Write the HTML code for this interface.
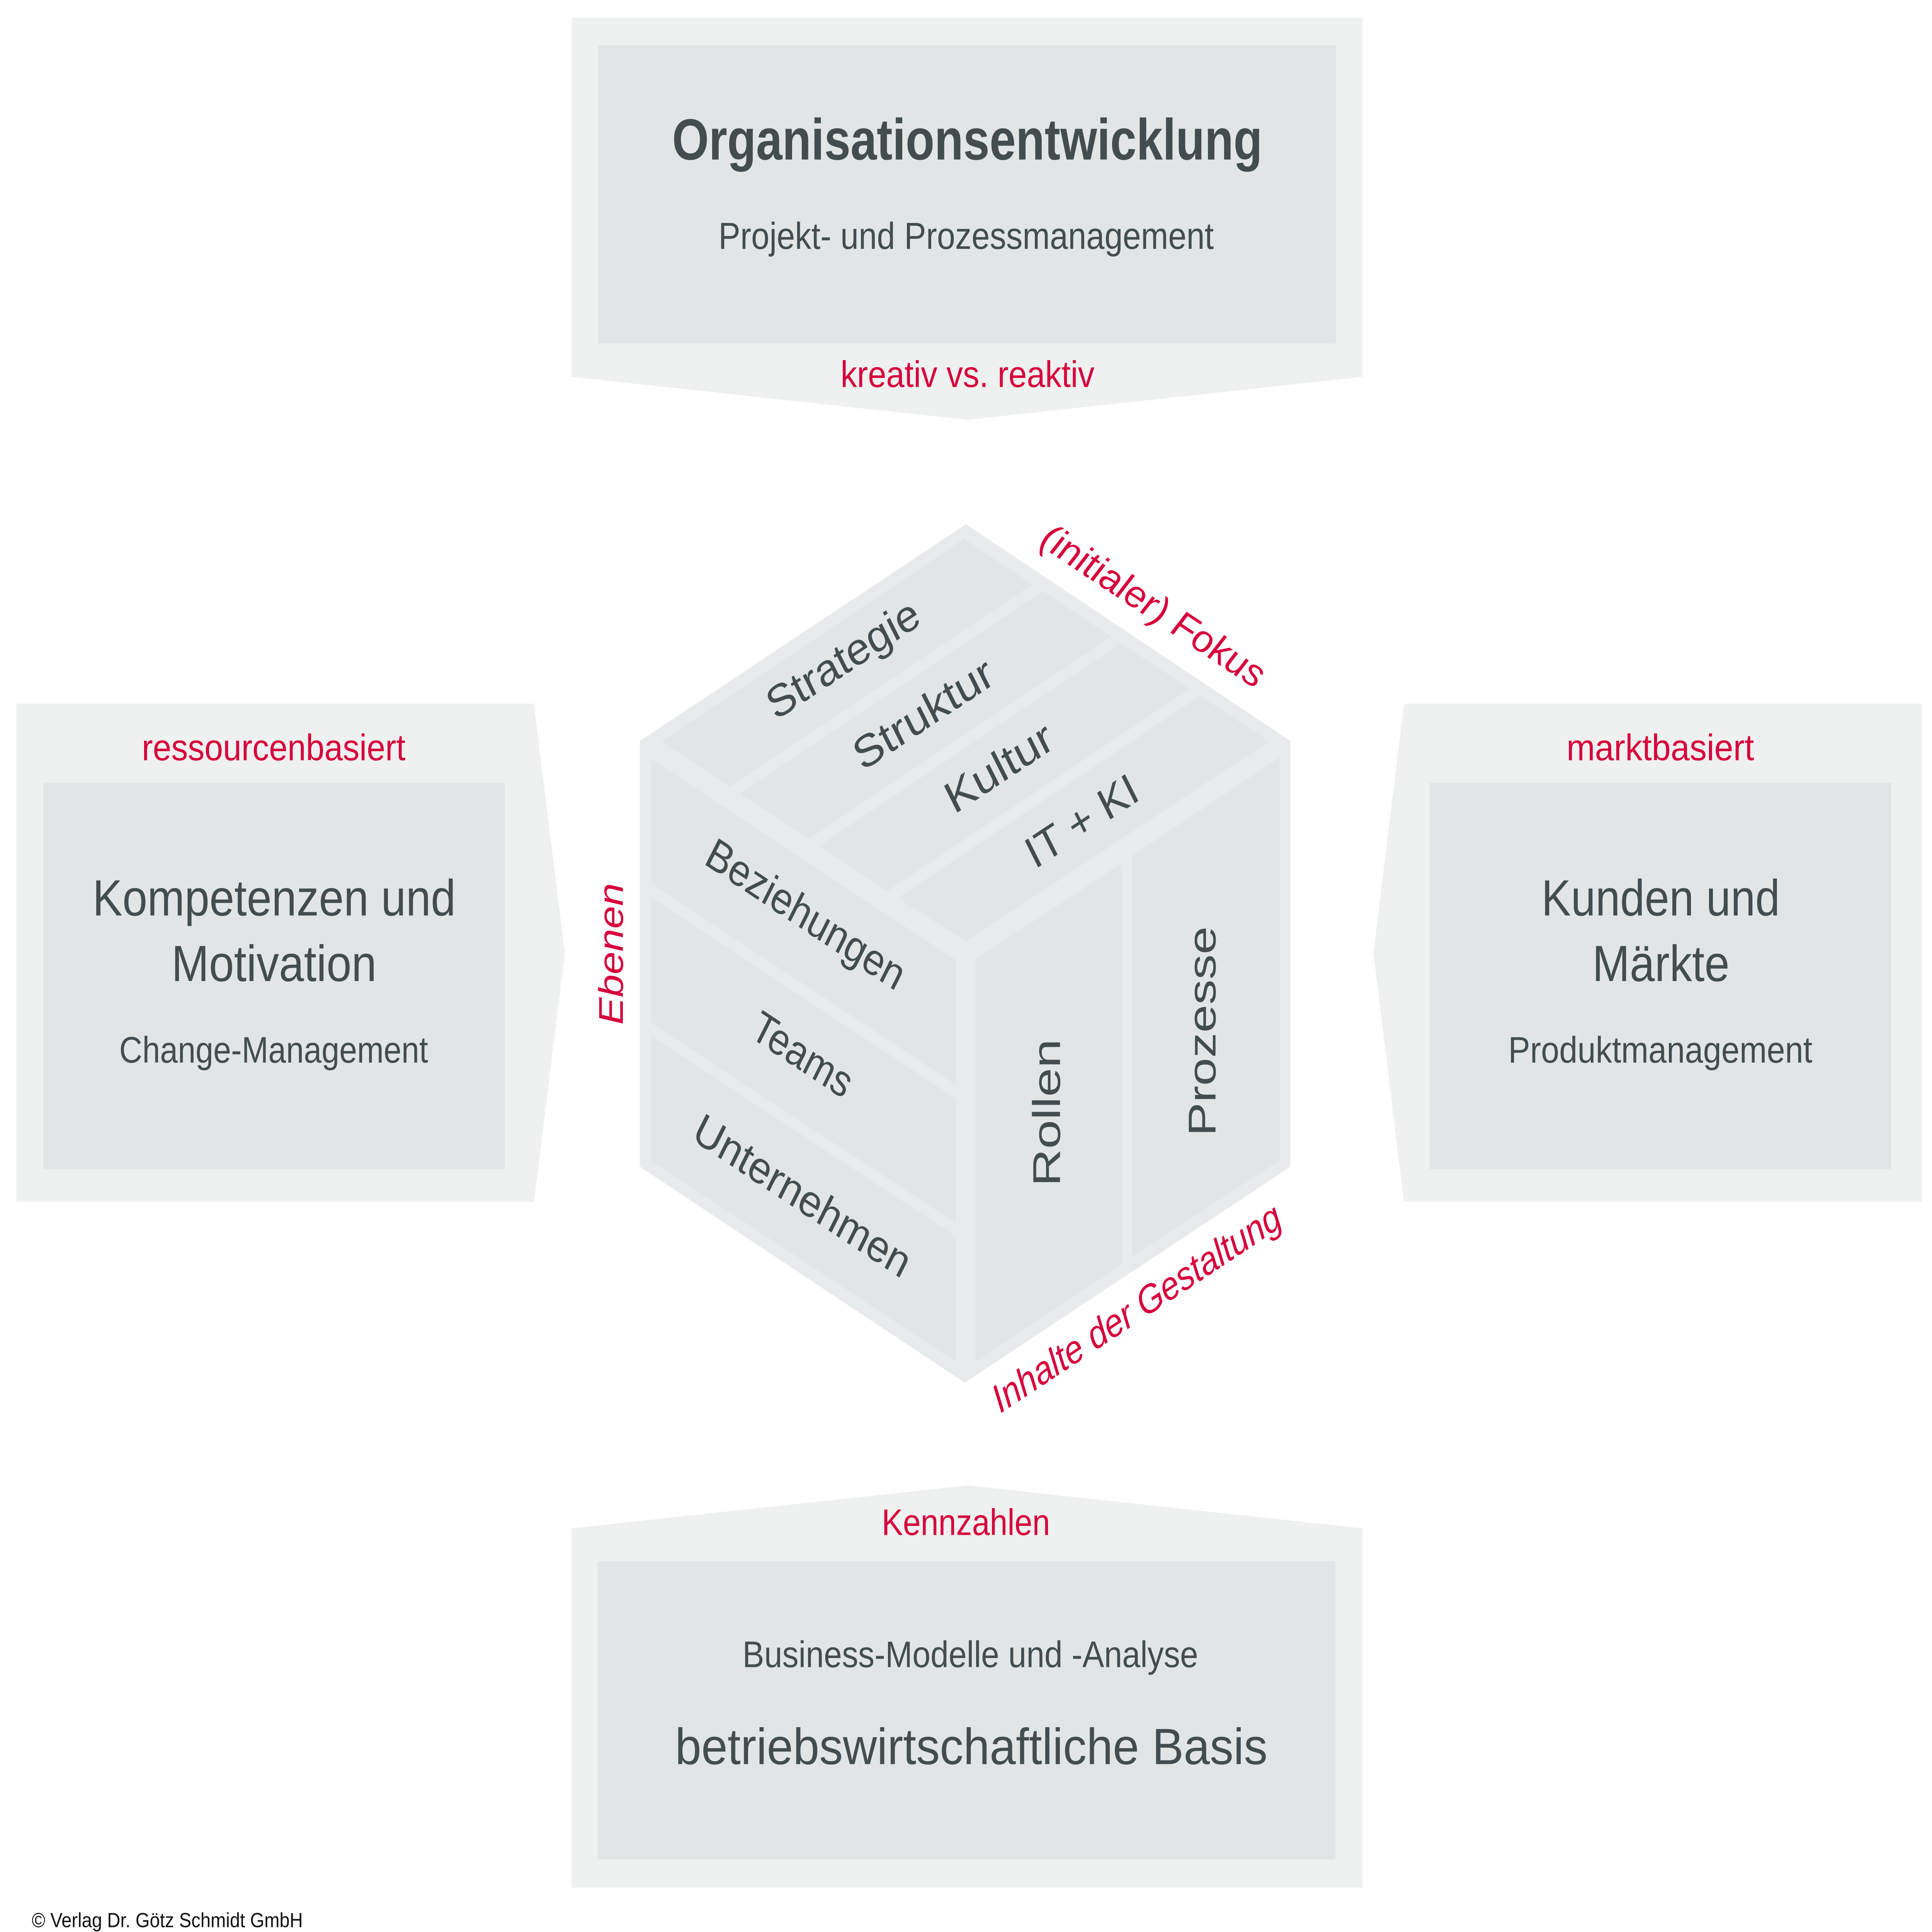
<!DOCTYPE html>
<html>
<head>
<meta charset="utf-8">
<style>
  html, body { margin: 0; padding: 0; background: #ffffff; width: 100%; height: 100%; overflow: hidden; }
  svg { display: block; position: absolute; left: 0; top: 0; width: 100vw; height: 100vh; }
  .d { font-family: "Liberation Sans", "DejaVu Sans", sans-serif; fill: #434d4f; }
  .r { font-family: "Liberation Sans", "DejaVu Sans", sans-serif; fill: #d6003b; }
  .ri { font-family: "Liberation Sans", "DejaVu Sans", sans-serif; fill: #d6003b; font-style: italic; }
</style>
</head>
<body>
<svg xmlns="http://www.w3.org/2000/svg" viewBox="0 0 1568 1363.7" preserveAspectRatio="none">
  <rect x="0" y="0" width="1568" height="1363.7" fill="#ffffff"/>

  <!-- ===== Top box ===== -->
  <polygon points="463.9,12.6 1105.7,12.6 1105.7,266 785.4,296.3 463.9,266" fill="#eff0f0"/>
  <rect x="485.3" y="31.9" width="598.9" height="210.6" fill="#e1e5e6"/>
  <text class="d" x="785" y="112.6" font-size="41" font-weight="bold" text-anchor="middle" textLength="479" lengthAdjust="spacingAndGlyphs">Organisationsentwicklung</text>
  <text class="d" x="784.1" y="175.7" font-size="26.5" text-anchor="middle" textLength="402" lengthAdjust="spacingAndGlyphs">Projekt- und Prozessmanagement</text>
  <text class="r" x="785.2" y="273.2" font-size="26" text-anchor="middle" textLength="206" lengthAdjust="spacingAndGlyphs">kreativ vs. reaktiv</text>

  <!-- ===== Left box ===== -->
  <polygon points="13.3,496.7 433.3,496.7 458.4,672.8 433.3,848.3 13.3,848.3" fill="#eff0f0"/>
  <rect x="35.1" y="552.7" width="374.6" height="272.3" fill="#e1e5e6"/>
  <text class="r" x="222.1" y="536.6" font-size="26" text-anchor="middle" textLength="214" lengthAdjust="spacingAndGlyphs">ressourcenbasiert</text>
  <text class="d" x="222.5" y="646.2" font-size="36" text-anchor="middle" textLength="294.7" lengthAdjust="spacingAndGlyphs">Kompetenzen und</text>
  <text class="d" x="222.4" y="692.5" font-size="36" text-anchor="middle" textLength="166.4" lengthAdjust="spacingAndGlyphs">Motivation</text>
  <text class="d" x="222.1" y="750" font-size="26" text-anchor="middle" textLength="250.6" lengthAdjust="spacingAndGlyphs">Change-Management</text>

  <!-- ===== Right box ===== -->
  <polygon points="1139.5,496.7 1559.7,496.7 1559.7,848.3 1139.5,848.3 1114.7,672.8" fill="#eff0f0"/>
  <rect x="1160.4" y="552.7" width="374.5" height="272.3" fill="#e1e5e6"/>
  <text class="r" x="1347.5" y="536.6" font-size="26" text-anchor="middle" textLength="152.2" lengthAdjust="spacingAndGlyphs">marktbasiert</text>
  <text class="d" x="1347.8" y="646.2" font-size="36" text-anchor="middle" textLength="193.5" lengthAdjust="spacingAndGlyphs">Kunden und</text>
  <text class="d" x="1348" y="692.5" font-size="36" text-anchor="middle" textLength="111.3" lengthAdjust="spacingAndGlyphs">Märkte</text>
  <text class="d" x="1347.5" y="750" font-size="26" text-anchor="middle" textLength="246.8" lengthAdjust="spacingAndGlyphs">Produktmanagement</text>

  <!-- ===== Bottom box ===== -->
  <polygon points="463.9,1078.8 785.4,1048.5 1105.7,1078.8 1105.7,1332.3 463.9,1332.3" fill="#eff0f0"/>
  <rect x="484.9" y="1101.9" width="598.9" height="210.6" fill="#e1e5e6"/>
  <text class="r" x="783.9" y="1083.4" font-size="26" text-anchor="middle" textLength="136.6" lengthAdjust="spacingAndGlyphs">Kennzahlen</text>
  <text class="d" x="787.5" y="1176.7" font-size="26" text-anchor="middle" textLength="369.8" lengthAdjust="spacingAndGlyphs">Business-Modelle und -Analyse</text>
  <text class="d" x="788.3" y="1245.2" font-size="36" text-anchor="middle" textLength="480.8" lengthAdjust="spacingAndGlyphs">betriebswirtschaftliche Basis</text>

  <!-- ===== Cube ===== -->
  <polygon points="784,370 1047.3,523 1047.3,823.5 783,976 519.3,823.5 519.3,523" fill="#e8ebec"/>

  <!-- top face strips -->
  <polygon points="782.5,380.4 837.94,412.41 592.44,555.31 537,523.3" fill="#e1e5e6"/>
  <polygon points="846.36,417.27 901.8,449.28 656.3,592.18 600.86,560.17" fill="#e1e5e6"/>
  <polygon points="910.21,454.14 965.65,486.15 720.15,629.05 664.71,597.04" fill="#e1e5e6"/>
  <polygon points="974.07,491 1030,523.3 784,664.5 728.57,633.9" fill="#e1e5e6"/>

  <!-- front-left face strips -->
  <polygon points="528.6,535.8 775.9,677.8 775.9,765.8 528.6,623.6" fill="#e1e5e6"/>
  <polygon points="528.6,633.4 775.9,775.5 775.9,863.4 528.6,722.2" fill="#e1e5e6"/>
  <polygon points="528.6,731.1 775.9,872.7 775.9,961.3 528.6,819.3" fill="#e1e5e6"/>

  <!-- front-right face strips -->
  <polygon points="791.7,677 910.7,609.2 910.7,892.5 791.7,961.1" fill="#e1e5e6"/>
  <polygon points="918.8,604 1038.6,534.6 1038.6,819.1 918.8,886.8" fill="#e1e5e6"/>

  <!-- cube labels: top face -->
  <text class="d" transform="translate(689.4,474.3) rotate(-30)" font-size="31.5" text-anchor="middle" textLength="138" lengthAdjust="spacingAndGlyphs">Strategie</text>
  <text class="d" transform="translate(754.6,513.1) rotate(-30)" font-size="31.5" text-anchor="middle" textLength="126" lengthAdjust="spacingAndGlyphs">Struktur</text>
  <text class="d" transform="translate(816,551) rotate(-30)" font-size="31.5" text-anchor="middle" textLength="96" lengthAdjust="spacingAndGlyphs">Kultur</text>
  <text class="d" transform="translate(883.2,588.8) rotate(-30)" font-size="31.5" text-anchor="middle" textLength="100" lengthAdjust="spacingAndGlyphs">IT + KI</text>

  <!-- cube labels: front-left face -->
  <text class="d" transform="translate(648.7,654.5) rotate(30)" font-size="31.5" text-anchor="middle" textLength="181" lengthAdjust="spacingAndGlyphs">Beziehungen</text>
  <text class="d" transform="translate(646,753.6) rotate(30)" font-size="31.5" text-anchor="middle" textLength="89" lengthAdjust="spacingAndGlyphs">Teams</text>
  <text class="d" transform="translate(646,853.3) rotate(30)" font-size="31.5" text-anchor="middle" textLength="198" lengthAdjust="spacingAndGlyphs">Unternehmen</text>

  <!-- cube labels: front-right face -->
  <text class="d" transform="translate(860.3,785.4) rotate(-90)" font-size="31.5" text-anchor="middle" textLength="104" lengthAdjust="spacingAndGlyphs">Rollen</text>
  <text class="d" transform="translate(986.5,727.9) rotate(-90)" font-size="31.5" text-anchor="middle" textLength="148" lengthAdjust="spacingAndGlyphs">Prozesse</text>

  <!-- red axis labels -->
  <text class="ri" transform="translate(931.2,435.7) rotate(30)" font-size="28" text-anchor="middle" textLength="204" lengthAdjust="spacingAndGlyphs">(initialer) Fokus</text>
  <text class="ri" transform="translate(505.6,673.3) rotate(-90)" font-size="28" text-anchor="middle" textLength="100" lengthAdjust="spacingAndGlyphs">Ebenen</text>
  <text class="ri" transform="translate(927,931.3) rotate(-30)" font-size="28" text-anchor="middle" textLength="266" lengthAdjust="spacingAndGlyphs">Inhalte der Gestaltung</text>

  <!-- copyright -->
  <text x="25.8" y="1360.3" font-family="'Liberation Sans', Arial, sans-serif" font-size="14.5" fill="#111111" textLength="220" lengthAdjust="spacingAndGlyphs">© Verlag Dr. Götz Schmidt GmbH</text>
</svg>
</body>
</html>
